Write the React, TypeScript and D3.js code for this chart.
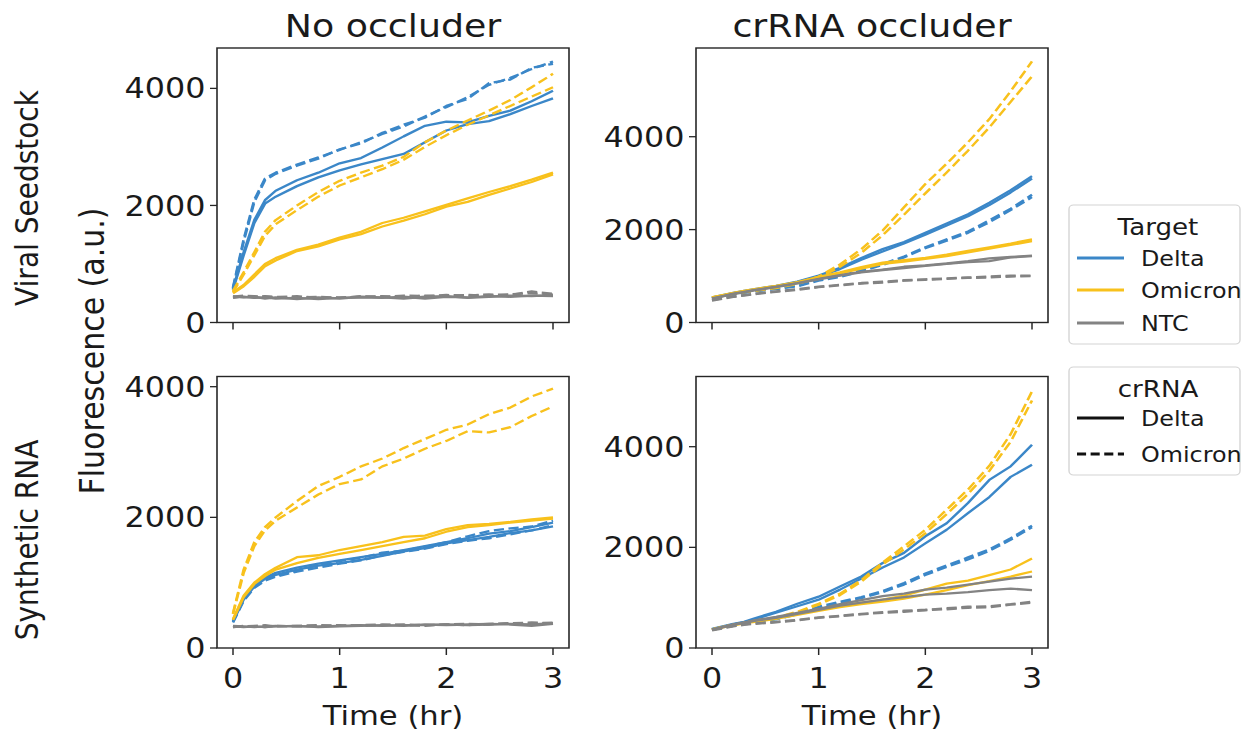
import * as d3 from 'd3';

// time points (hr)
const times = [0, 0.1, 0.2, 0.3, 0.4, 0.6, 0.8, 1.0, 1.2, 1.4, 1.6, 1.8, 2.0, 2.2, 2.4, 2.6, 2.8, 3.0];

type Series = { target: string; crRNA: string; values: number[] };

// Viral seedstock, no occluder
const viralNoOccluder: Series[] = [
  { target: 'Delta', crRNA: 'Delta', values: [580, 1200, 1750, 2090, 2250, 2430, 2560, 2720, 2810, 2990, 3180, 3360, 3430, 3420, 3530, 3620, 3780, 3960] },
  { target: 'Delta', crRNA: 'Delta', values: [560, 1150, 1700, 2030, 2150, 2330, 2480, 2600, 2700, 2790, 2880, 3080, 3280, 3390, 3440, 3560, 3700, 3830] },
  { target: 'Delta', crRNA: 'Omicron', values: [600, 1420, 2100, 2460, 2560, 2700, 2820, 2950, 3080, 3220, 3350, 3520, 3680, 3850, 4060, 4180, 4330, 4460] },
  { target: 'Delta', crRNA: 'Omicron', values: [580, 1380, 2060, 2430, 2540, 2680, 2800, 2960, 3060, 3240, 3380, 3500, 3700, 3820, 4090, 4150, 4350, 4420] },
  { target: 'Omicron', crRNA: 'Delta', values: [520, 640, 820, 1000, 1100, 1240, 1330, 1450, 1550, 1700, 1790, 1900, 2010, 2120, 2230, 2330, 2440, 2560] },
  { target: 'Omicron', crRNA: 'Delta', values: [500, 620, 780, 960, 1060, 1220, 1300, 1420, 1510, 1640, 1740, 1850, 1980, 2060, 2180, 2290, 2400, 2530] },
  { target: 'Omicron', crRNA: 'Omicron', values: [540, 860, 1200, 1550, 1750, 2000, 2230, 2420, 2560, 2680, 2830, 3080, 3280, 3450, 3620, 3800, 4020, 4250] },
  { target: 'Omicron', crRNA: 'Omicron', values: [520, 820, 1150, 1480, 1680, 1920, 2150, 2340, 2480, 2620, 2780, 3000, 3200, 3380, 3540, 3700, 3860, 4020] },
  { target: 'NTC', crRNA: 'Delta', values: [430, 440, 420, 430, 410, 420, 400, 420, 430, 420, 440, 410, 440, 430, 450, 440, 460, 450] },
  { target: 'NTC', crRNA: 'Delta', values: [450, 430, 440, 410, 430, 400, 430, 410, 440, 430, 410, 440, 450, 420, 440, 460, 450, 470] },
  { target: 'NTC', crRNA: 'Omicron', values: [440, 460, 450, 440, 430, 450, 420, 430, 440, 450, 430, 460, 450, 470, 460, 480, 500, 480] },
  { target: 'NTC', crRNA: 'Omicron', values: [420, 450, 430, 450, 440, 430, 440, 420, 450, 440, 460, 450, 470, 460, 480, 470, 530, 490] },
];

// Viral seedstock, crRNA occluder
const viralOccluder: Series[] = [
  { target: 'Delta', crRNA: 'Delta', values: [540, 590, 640, 680, 720, 790, 880, 1010, 1180, 1390, 1580, 1730, 1930, 2130, 2330, 2580, 2850, 3150] },
  { target: 'Delta', crRNA: 'Delta', values: [530, 580, 630, 670, 710, 780, 870, 990, 1150, 1350, 1530, 1700, 1890, 2090, 2290, 2530, 2800, 3100] },
  { target: 'Delta', crRNA: 'Omicron', values: [520, 570, 610, 650, 680, 730, 790, 920, 1000, 1130, 1260, 1420, 1620, 1790, 1960, 2200, 2450, 2750] },
  { target: 'Delta', crRNA: 'Omicron', values: [510, 560, 600, 640, 670, 720, 780, 900, 980, 1100, 1240, 1400, 1600, 1760, 1930, 2160, 2420, 2700] },
  { target: 'Omicron', crRNA: 'Delta', values: [540, 590, 640, 680, 720, 790, 870, 980, 1080, 1190, 1290, 1340, 1390, 1460, 1540, 1620, 1700, 1790] },
  { target: 'Omicron', crRNA: 'Delta', values: [530, 580, 630, 670, 710, 780, 860, 960, 1060, 1160, 1260, 1310, 1370, 1430, 1510, 1590, 1670, 1750] },
  { target: 'Omicron', crRNA: 'Omicron', values: [540, 580, 620, 660, 690, 760, 850, 990, 1250, 1580, 1980, 2480, 2980, 3420, 3880, 4380, 4980, 5620] },
  { target: 'Omicron', crRNA: 'Omicron', values: [520, 570, 610, 650, 680, 740, 830, 960, 1200, 1500, 1880, 2320, 2780, 3230, 3700, 4200, 4750, 5300] },
  { target: 'NTC', crRNA: 'Delta', values: [520, 570, 620, 660, 700, 770, 850, 940, 1020, 1090, 1140, 1200, 1230, 1270, 1320, 1380, 1410, 1440] },
  { target: 'NTC', crRNA: 'Delta', values: [510, 560, 610, 650, 690, 760, 840, 930, 1010, 1080, 1130, 1170, 1220, 1260, 1300, 1320, 1400, 1430] },
  { target: 'NTC', crRNA: 'Omicron', values: [480, 520, 560, 590, 620, 670, 720, 770, 810, 850, 880, 910, 930, 950, 970, 990, 1010, 1010] },
  { target: 'NTC', crRNA: 'Omicron', values: [470, 510, 550, 580, 610, 660, 700, 760, 800, 840, 860, 900, 920, 940, 960, 970, 990, 1000] },
];

// Synthetic RNA, no occluder
const synthNoOccluder: Series[] = [
  { target: 'Delta', crRNA: 'Delta', values: [420, 760, 960, 1080, 1150, 1230, 1290, 1340, 1390, 1440, 1500, 1560, 1620, 1680, 1750, 1790, 1850, 1920] },
  { target: 'Delta', crRNA: 'Delta', values: [400, 740, 940, 1060, 1120, 1200, 1260, 1300, 1350, 1410, 1480, 1530, 1600, 1650, 1700, 1760, 1800, 1860] },
  { target: 'Delta', crRNA: 'Omicron', values: [410, 750, 950, 1070, 1110, 1180, 1270, 1330, 1380, 1460, 1490, 1550, 1620, 1710, 1790, 1830, 1860, 1950] },
  { target: 'Delta', crRNA: 'Omicron', values: [390, 720, 920, 1030, 1090, 1170, 1230, 1290, 1340, 1420, 1470, 1520, 1590, 1640, 1680, 1740, 1800, 1880] },
  { target: 'Omicron', crRNA: 'Delta', values: [440, 800, 1000, 1130, 1230, 1390, 1420, 1500, 1560, 1620, 1700, 1720, 1820, 1880, 1900, 1930, 1970, 2000] },
  { target: 'Omicron', crRNA: 'Delta', values: [430, 780, 980, 1100, 1200, 1300, 1380, 1440, 1500, 1560, 1620, 1680, 1780, 1850, 1880, 1920, 1950, 1980] },
  { target: 'Omicron', crRNA: 'Omicron', values: [530, 1200, 1620, 1850, 2000, 2250, 2480, 2620, 2780, 2900, 3060, 3200, 3340, 3420, 3580, 3680, 3850, 3970] },
  { target: 'Omicron', crRNA: 'Omicron', values: [520, 1150, 1560, 1800, 1950, 2150, 2350, 2510, 2580, 2780, 2900, 3050, 3170, 3320, 3300, 3380, 3550, 3700] },
  { target: 'NTC', crRNA: 'Delta', values: [320, 330, 320, 330, 340, 330, 330, 340, 350, 340, 350, 350, 360, 350, 360, 370, 360, 380] },
  { target: 'NTC', crRNA: 'Delta', values: [330, 320, 330, 320, 330, 340, 320, 330, 340, 350, 340, 360, 350, 360, 370, 360, 340, 370] },
  { target: 'NTC', crRNA: 'Omicron', values: [340, 330, 340, 350, 330, 340, 350, 340, 350, 360, 350, 340, 360, 370, 360, 380, 370, 390] },
  { target: 'NTC', crRNA: 'Omicron', values: [320, 340, 330, 320, 340, 330, 340, 350, 340, 350, 360, 350, 360, 350, 370, 380, 390, 380] },
];

// Synthetic RNA, crRNA occluder
const synthOccluder: Series[] = [
  { target: 'Delta', crRNA: 'Delta', values: [380, 430, 480, 520, 590, 720, 880, 1020, 1220, 1420, 1690, 1890, 2220, 2480, 2880, 3340, 3610, 4040] },
  { target: 'Delta', crRNA: 'Delta', values: [370, 420, 470, 510, 570, 700, 830, 960, 1160, 1380, 1600, 1800, 2080, 2350, 2680, 3000, 3400, 3640] },
  { target: 'Delta', crRNA: 'Omicron', values: [370, 410, 450, 490, 520, 580, 690, 820, 920, 1010, 1130, 1290, 1480, 1640, 1800, 1960, 2180, 2430] },
  { target: 'Delta', crRNA: 'Omicron', values: [360, 400, 440, 480, 510, 570, 670, 800, 900, 990, 1110, 1260, 1450, 1610, 1760, 1930, 2150, 2400] },
  { target: 'Omicron', crRNA: 'Delta', values: [370, 420, 460, 500, 540, 600, 680, 760, 840, 900, 960, 1040, 1160, 1280, 1340, 1450, 1560, 1780] },
  { target: 'Omicron', crRNA: 'Delta', values: [360, 410, 450, 490, 520, 580, 660, 740, 810, 870, 920, 980, 1060, 1150, 1250, 1330, 1420, 1520] },
  { target: 'Omicron', crRNA: 'Omicron', values: [370, 420, 460, 500, 540, 610, 720, 880, 1080, 1350, 1700, 2020, 2350, 2750, 3150, 3620, 4250, 5100] },
  { target: 'Omicron', crRNA: 'Omicron', values: [360, 410, 450, 490, 530, 600, 700, 860, 1050, 1320, 1660, 1960, 2280, 2660, 3060, 3520, 4100, 4920] },
  { target: 'NTC', crRNA: 'Delta', values: [370, 420, 470, 510, 550, 620, 700, 780, 870, 950, 1030, 1080, 1160, 1200, 1260, 1320, 1380, 1420] },
  { target: 'NTC', crRNA: 'Delta', values: [360, 410, 460, 500, 540, 600, 680, 760, 840, 900, 960, 1010, 1060, 1080, 1110, 1150, 1180, 1150] },
  { target: 'NTC', crRNA: 'Omicron', values: [360, 400, 440, 470, 490, 520, 560, 610, 640, 680, 710, 740, 760, 790, 820, 830, 870, 920] },
  { target: 'NTC', crRNA: 'Omicron', values: [350, 390, 430, 460, 480, 510, 550, 600, 630, 670, 700, 720, 750, 770, 800, 810, 860, 900] },
];

const xTicks = [0, 1, 2, 3];
const yTicks = [0, 2000, 4000];
const targets = ['Delta', 'Omicron', 'NTC'];
const crRNAs = ['Delta', 'Omicron'];
const colTitles = ['No occluder', 'crRNA occluder'];
const rowTitles = ['Viral Seedstock', 'Synthetic RNA'];

const colors: Record<string, string> = { Delta: '#3b87c8', Omicron: '#f8c11c', NTC: '#838383' };
const dashes: Record<string, string | undefined> = { Delta: undefined, Omicron: '9,4' };

// the reference is stretched horizontally, so everything is drawn in a narrower
// coordinate space and scaled up by the viewBox
const K = 1.135;
const W = 1241 / K;
const H = 736;
const FONT = 'DejaVu Sans, sans-serif';

const colX = [[217 / K, 569 / K], [696 / K, 1048 / K]];
const rowY = [[48, 322.5], [376.5, 648]];
const yMaxes = [[4690, 5910], [4156, 5395]];
const panelData = [[viralNoOccluder, viralOccluder], [synthNoOccluder, synthOccluder]];

function Panel({ row, col }: { row: number; col: number }) {
  const [x0, x1] = colX[col];
  const [y0, y1] = rowY[row];
  const x = d3.scaleLinear().domain([-0.15, 3.15]).range([x0, x1]);
  const y = d3.scaleLinear().domain([0, yMaxes[row][col]]).range([y1, y0]);
  const line = d3
    .line<number>()
    .x((_, i) => x(times[i]))
    .y((v) => y(v));

  const data = panelData[row][col];
  const tickLen = 7 / K;

  return (
    <g>
      {targets.map((t) =>
        data
          .filter((s) => s.target === t)
          .map((s, i) => (
            <path
              key={t + i}
              d={line(s.values) || ''}
              fill="none"
              stroke={colors[s.target]}
              strokeWidth={2.3}
              strokeDasharray={dashes[s.crRNA]}
              strokeLinejoin="round"
            />
          ))
      )}
      <rect x={x0} y={y0} width={x1 - x0} height={y1 - y0} fill="none" stroke="#262626" strokeWidth={1.4} />
      {xTicks.map((t) => (
        <g key={'x' + t}>
          <line x1={x(t)} x2={x(t)} y1={y1} y2={y1 + 7} stroke="#262626" strokeWidth={1.3} />
          {row === 1 && (
            <text x={x(t)} y={y1 + 40} textAnchor="middle" fontSize={28} fontFamily={FONT} fill="#1a1a1a">
              {t}
            </text>
          )}
        </g>
      ))}
      {yTicks.map((t) => (
        <g key={'y' + t}>
          <line x1={x0 - tickLen} x2={x0} y1={y(t)} y2={y(t)} stroke="#262626" strokeWidth={1.3} />
          <text
            x={x0 - tickLen - 4}
            y={y(t)}
            dy="0.36em"
            textAnchor="end"
            fontSize={28}
            fontFamily={FONT}
            fill="#1a1a1a"
          >
            {t}
          </text>
        </g>
      ))}
      {row === 0 && (
        <text x={(x0 + x1) / 2} y={37} textAnchor="middle" fontSize={32} fontFamily={FONT} fill="#1a1a1a">
          {colTitles[col]}
        </text>
      )}
      {row === 1 && (
        <text x={(x0 + x1) / 2} y={725} textAnchor="middle" fontSize={27} fontFamily={FONT} fill="#1a1a1a">
          Time (hr)
        </text>
      )}
    </g>
  );
}

function Legend() {
  const bx = 1069 / K;
  const bw = (1240 - 1069) / K;
  const cx = 1158 / K;
  const lx0 = 1077 / K;
  const lx1 = 1124 / K;
  const tx = 1141 / K;
  const targetRows = [258, 290, 323];
  const crRows = [418, 454];
  return (
    <g fontFamily={FONT} fill="#1a1a1a">
      <rect x={bx} y={205} width={bw} height={139} rx={4} fill="#fff" stroke="#d4d4d4" strokeWidth={1.2} />
      <text x={cx} y={235} textAnchor="middle" fontSize={23}>Target</text>
      {targets.map((t, i) => (
        <g key={t}>
          <line x1={lx0} x2={lx1} y1={targetRows[i]} y2={targetRows[i]} stroke={colors[t]} strokeWidth={3} />
          <text x={tx} y={targetRows[i]} dy="0.36em" fontSize={21}>{t}</text>
        </g>
      ))}
      <rect x={bx} y={367} width={bw} height={108} rx={4} fill="#fff" stroke="#d4d4d4" strokeWidth={1.2} />
      <text x={cx} y={397} textAnchor="middle" fontSize={23}>crRNA</text>
      {crRNAs.map((c, i) => (
        <g key={c}>
          <line
            x1={lx0}
            x2={lx1}
            y1={crRows[i]}
            y2={crRows[i]}
            stroke="#111"
            strokeWidth={3}
            strokeDasharray={dashes[c] ? '8,4' : undefined}
          />
          <text x={tx} y={crRows[i]} dy="0.36em" fontSize={21}>{c}</text>
        </g>
      ))}
    </g>
  );
}

export default function App() {
  return (
    <svg
      width={1241}
      height={H}
      viewBox={`0 0 ${W} ${H}`}
      preserveAspectRatio="none"
      style={{ position: 'absolute', left: 0, top: 0, background: '#fff' }}
    >
      {[0, 1].map((r) => [0, 1].map((c) => <Panel key={`${r}-${c}`} row={r} col={c} />))}
      {rowTitles.map((t, i) => (
        <text
          key={t}
          transform={`translate(${38 / K},${i === 0 ? 198 : 540}) rotate(-90)`}
          textAnchor="middle"
          fontSize={28}
          fontFamily={FONT}
          fill="#1a1a1a"
        >
          {t}
        </text>
      ))}
      <text
        transform={`translate(${104 / K},351) rotate(-90)`}
        textAnchor="middle"
        fontSize={30}
        fontFamily={FONT}
        fill="#1a1a1a"
      >
        Fluorescence (a.u.)
      </text>
      <Legend />
    </svg>
  );
}
